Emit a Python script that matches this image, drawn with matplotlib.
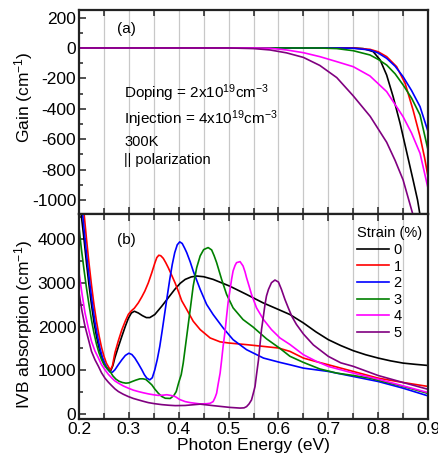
import numpy as np
import matplotlib.pyplot as plt
from matplotlib.ticker import MultipleLocator

plt.rcParams['font.family'] = ['Liberation Sans', 'DejaVu Sans']
plt.rcParams['mathtext.default'] = 'regular'
plt.rcParams['axes.unicode_minus'] = False

strains = ['0', '1', '2', '3', '4', '5']
colors = ['black', 'red', 'blue', 'green', 'magenta', 'purple']

# (a) gain spectra, photon energy in eV / gain in cm^-1
gain_E = [
    [0.2, 0.75, 0.77, 0.79, 0.804, 0.817, 0.830, 0.844, 0.857, 0.870, 0.879, 0.884],
    [0.2, 0.72, 0.75, 0.7835, 0.80, 0.817, 0.837, 0.854, 0.870, 0.884, 0.893, 0.900],
    [0.2, 0.72, 0.75, 0.7835, 0.80, 0.817, 0.834, 0.850, 0.867, 0.884, 0.900],
    [0.2, 0.68, 0.717, 0.75, 0.7835, 0.80, 0.817, 0.834, 0.850, 0.867, 0.884, 0.900],
    [0.2, 0.55, 0.583, 0.616, 0.650, 0.683, 0.717, 0.750, 0.7835, 0.817, 0.850, 0.867, 0.884, 0.900],
    [0.2, 0.50, 0.55, 0.583, 0.616, 0.650, 0.683, 0.717, 0.750, 0.784, 0.817, 0.834, 0.850, 0.869],
]
gain_G = [
    [0, 0, -4, -24, -79, -178, -320, -496, -682, -868, -1000, -1100],
    [0, 0, -1, -9, -25, -57, -123, -232, -408, -583, -720, -846],
    [0, 0, -2, -13, -33, -68, -120, -189, -280, -386, -550],
    [0, 0, -4, -18, -46, -75, -112, -170, -243, -330, -441, -671],
    [0, 0, -2, -13, -31, -57, -90, -123, -184, -287, -452, -560, -693, -923],
    [0, 0, -4, -13, -32, -62, -115, -195, -315, -450, -620, -740, -868, -1088],
]

# (b) intervalence band absorption, photon energy in eV / absorption in cm^-1
ivb_E = [
    [0.204, 0.210, 0.215, 0.220, 0.225, 0.230, 0.235, 0.240, 0.245, 0.250, 0.255, 0.260, 0.264,
     0.268, 0.272, 0.279, 0.286, 0.293, 0.299, 0.305, 0.311, 0.319, 0.327, 0.335, 0.342, 0.352,
     0.366, 0.379, 0.392, 0.403, 0.413, 0.425, 0.436, 0.450, 0.469, 0.502, 0.536, 0.569, 0.600,
     0.623, 0.650, 0.675, 0.700, 0.725, 0.750, 0.775, 0.800, 0.825, 0.850, 0.875, 0.900],
    [0.210, 0.215, 0.220, 0.225, 0.230, 0.235, 0.240, 0.245, 0.250, 0.255, 0.260, 0.263, 0.267,
     0.272, 0.279, 0.286, 0.293, 0.299, 0.305, 0.311, 0.319, 0.326, 0.332, 0.339, 0.346, 0.352,
     0.356, 0.360, 0.364, 0.369, 0.374, 0.379, 0.386, 0.393, 0.400, 0.406, 0.416, 0.429, 0.443,
     0.463, 0.483, 0.500, 0.536, 0.569, 0.600, 0.623, 0.650, 0.675, 0.700, 0.750, 0.800, 0.850,
     0.900],
    [0.207, 0.212, 0.217, 0.222, 0.227, 0.232, 0.237, 0.242, 0.247, 0.252, 0.257, 0.262, 0.267,
     0.272, 0.279, 0.286, 0.293, 0.300, 0.306, 0.312, 0.319, 0.326, 0.331, 0.336, 0.342, 0.347,
     0.352, 0.357, 0.362, 0.367, 0.372, 0.377, 0.382, 0.387, 0.392, 0.397, 0.402, 0.407, 0.412,
     0.416, 0.423, 0.429, 0.436, 0.443, 0.456, 0.469, 0.489, 0.509, 0.536, 0.570, 0.603, 0.623,
     0.650, 0.700, 0.750, 0.800, 0.850, 0.900],
    [0.200, 0.205, 0.210, 0.215, 0.220, 0.225, 0.230, 0.235, 0.240, 0.245, 0.250, 0.256, 0.263,
     0.268, 0.274, 0.280, 0.287, 0.294, 0.300, 0.306, 0.314, 0.322, 0.328, 0.334, 0.340, 0.346,
     0.352, 0.359, 0.366, 0.373, 0.383, 0.390, 0.395, 0.400, 0.405, 0.409, 0.416, 0.423, 0.429,
     0.436, 0.443, 0.450, 0.459, 0.466, 0.471, 0.476, 0.486, 0.496, 0.509, 0.529, 0.549, 0.576,
     0.603, 0.623, 0.650, 0.683, 0.717, 0.750, 0.783, 0.817, 0.850, 0.900],
    [0.200, 0.206, 0.212, 0.219, 0.225, 0.232, 0.239, 0.245, 0.252, 0.259, 0.266, 0.272, 0.279,
     0.289, 0.299, 0.309, 0.319, 0.329, 0.339, 0.349, 0.359, 0.368, 0.376, 0.384, 0.393, 0.402,
     0.413, 0.423, 0.443, 0.456, 0.463, 0.469, 0.473, 0.476, 0.479, 0.483, 0.486, 0.489, 0.493,
     0.496, 0.499, 0.503, 0.506, 0.509, 0.513, 0.516, 0.523, 0.529, 0.533, 0.536, 0.541, 0.546,
     0.556, 0.570, 0.586, 0.603, 0.623, 0.650, 0.675, 0.700, 0.750, 0.800, 0.850, 0.900],
    [0.200, 0.206, 0.212, 0.219, 0.225, 0.232, 0.239, 0.245, 0.252, 0.259, 0.266, 0.272, 0.279,
     0.289, 0.299, 0.309, 0.319, 0.329, 0.339, 0.352, 0.366, 0.380, 0.393, 0.413, 0.443, 0.469,
     0.503, 0.523, 0.531, 0.536, 0.541, 0.546, 0.549, 0.553, 0.556, 0.560, 0.563, 0.566, 0.570,
     0.573, 0.576, 0.580, 0.586, 0.593, 0.600, 0.606, 0.613, 0.620, 0.627, 0.636, 0.650, 0.670,
     0.700, 0.725, 0.750, 0.800, 0.850, 0.900],
]
ivb_A = [
    [4600, 4000, 3450, 2950, 2500, 2100, 1780, 1520, 1320, 1170, 1070, 1010, 1000,
     1110, 1290, 1540, 1780, 2010, 2190, 2310, 2350, 2310, 2250, 2205, 2205, 2275,
     2466, 2658, 2850, 2990, 3079, 3135, 3156, 3140, 3079, 2926, 2735, 2543, 2390,
     2275, 2083, 1880, 1700, 1565, 1448, 1355, 1279, 1215, 1164, 1135, 1110],
    [4600, 4000, 3450, 2950, 2500, 2120, 1800, 1530, 1320, 1160, 1060, 1010, 1100,
     1400, 1680, 1930, 2130, 2280, 2360, 2420, 2543, 2680, 2811, 3000, 3233, 3450,
     3577, 3631, 3620, 3560, 3460, 3347, 3170, 2990, 2780, 2590, 2390, 2122, 1930,
     1739, 1650, 1624, 1586, 1547, 1509, 1432, 1279, 1200, 1126, 973, 820, 720,
     630],
    [4600, 4000, 3450, 2950, 2500, 2100, 1780, 1500, 1290, 1140, 1030, 960, 955,
     1011, 1130, 1241, 1340, 1390, 1360, 1279, 1150, 1011, 900, 820, 781, 830,
     1011, 1250, 1547, 1920, 2313, 2700, 3079, 3420, 3692, 3870, 3937, 3900, 3790,
     3692, 3480, 3271, 3060, 2850, 2505, 2275, 1969, 1700, 1471, 1279, 1180, 1126,
     1049, 973, 858, 743, 590, 414],
    [4270, 3750, 3300, 2880, 2500, 2150, 1850, 1600, 1400, 1250, 1130, 1040, 960,
     870, 797, 750, 720, 705, 712, 740, 775, 804, 805, 790, 730, 666,
     570, 475, 400, 360, 355, 420, 513, 720, 900, 1164, 1777, 2390, 2926,
     3347, 3616, 3760, 3807, 3753, 3620, 3462, 3079, 2735, 2428, 2160, 1990, 1720,
     1500, 1320, 1180, 1030, 935, 881, 820, 720, 630, 470],
    [3233, 2750, 2313, 1950, 1662, 1440, 1279, 1130, 1011, 905, 820, 755, 705,
     640, 590, 545, 513, 485, 460, 440, 425, 430, 440, 425, 398, 330,
     283, 260, 230, 235, 245, 283, 380, 475, 680, 935, 1230, 1547, 1900,
     2237, 2550, 2850, 3080, 3271, 3400, 3462, 3485, 3386, 3250, 3118, 2930, 2735,
     2428, 2160, 1930, 1739, 1590, 1356, 1210, 1088, 935, 797, 643, 490],
    [2773, 2350, 2007, 1700, 1432, 1240, 1088, 945, 820, 725, 643, 575, 513,
     450, 398, 355, 322, 290, 260, 235, 214, 200, 191, 195, 225, 191,
     150, 135, 140, 168, 230, 322, 450, 628, 900, 1241, 1590, 1930, 2250,
     2505, 2700, 2850, 3003, 3064, 3018, 2850, 2620, 2420, 2230, 2050, 1830, 1580,
     1318, 1170, 1090, 880, 720, 565],
]

fig = plt.figure(figsize=(4.39, 4.55), dpi=100)
ax1 = fig.add_axes([0.180, 0.5297, 0.795, 0.4484])
ax2 = fig.add_axes([0.180, 0.0791, 0.795, 0.4506])

for ax in (ax1, ax2):
    ax.set_xlim(0.2, 0.9)
    ax.xaxis.set_major_locator(MultipleLocator(0.1))
    ax.xaxis.set_minor_locator(MultipleLocator(0.05))
    for xv in np.arange(0.25, 0.9, 0.05):
        ax.axvline(xv, color='#c8c8c8', lw=0.9, zorder=0)
    ax.tick_params(which='both', direction='in', top=True, right=False,
                   labelsize=12.5, width=1.1, color='#222222', pad=2)
    ax.tick_params(which='major', length=5)
    ax.tick_params(axis='x', which='minor', length=4)
    ax.tick_params(axis='y', which='minor', length=3)
    for sp in ax.spines.values():
        sp.set_linewidth(1.6)
        sp.set_color('#222222')

for i in range(len(strains)):
    ax1.plot(gain_E[i], gain_G[i], color=colors[i], lw=1.2)
    ax2.plot(ivb_E[i], ivb_A[i], color=colors[i], lw=1.2, label=strains[i])

ax1.set_ylim(-1092, 250)
ax1.yaxis.set_major_locator(MultipleLocator(200))
ax1.yaxis.set_minor_locator(MultipleLocator(100))
ax1.tick_params(axis='x', top=False, labelbottom=False)
ax1.set_ylabel('Gain (cm$^{-1}$)', fontsize=12.5)
ax1.yaxis.set_label_coords(-0.125, 0.574)

ax1.text(0.11, 0.905, '(a)', transform=ax1.transAxes, fontsize=11, va='center')
ax1.text(0.13, 0.593, 'Doping = 2x10$^{19}$cm$^{-3}$', transform=ax1.transAxes,
         fontsize=11, va='center')
ax1.text(0.13, 0.466, 'Injection = 4x10$^{19}$cm$^{-3}$', transform=ax1.transAxes,
         fontsize=11, va='center')
ax1.text(0.13, 0.353, '300K', transform=ax1.transAxes, fontsize=10.5, va='center')
ax1.text(0.13, 0.265, '|| polarization', transform=ax1.transAxes, fontsize=10.5, va='center')

ax2.set_ylim(-115, 4575)
ax2.yaxis.set_major_locator(MultipleLocator(1000))
ax2.yaxis.set_minor_locator(MultipleLocator(500))
ax2.set_xlabel('Photon Energy (eV)', fontsize=12.5, labelpad=1)
ax2.set_ylabel('IVB absorption (cm$^{-1}$)', fontsize=12.5)
ax2.yaxis.set_label_coords(-0.125, 0.463)
ax2.text(0.11, 0.873, '(b)', transform=ax2.transAxes, fontsize=11, va='center')

leg = ax2.legend(title='Strain (%)', loc='upper left', bbox_to_anchor=(0.797, 0.94),
                 frameon=False, fontsize=10.5, title_fontsize=10.5, handlelength=2.2,
                 handletextpad=0.3, labelspacing=0.18, borderpad=0, borderaxespad=0)
leg._legend_box.align = 'left'

fig.savefig('out.png', dpi=100)
